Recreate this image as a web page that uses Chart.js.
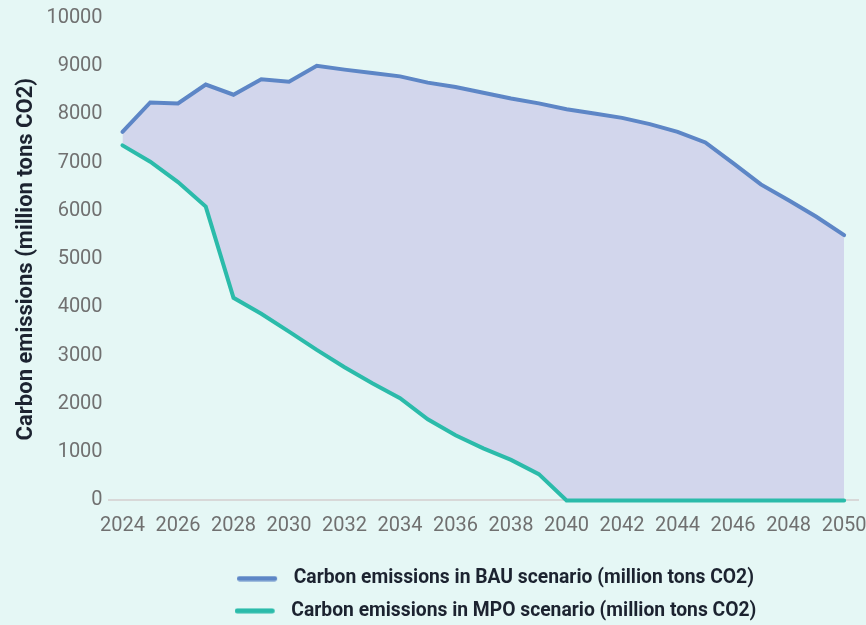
<!DOCTYPE html>
<html>
<head>
<meta charset="utf-8">
<script src="https://cdn.jsdelivr.net/npm/chart.js@4"></script>
<style>
  html, body { margin: 0; padding: 0; background: #e5f7f5; }
  #wrap { width: 866px; height: 625px; }
</style>
</head>
<body>
<div id="wrap"><canvas id="emissions-chart"></canvas></div>
<script>
// Years on the x axis
const years = ["2024", "2025", "2026", "2027", "2028", "2029", "2030", "2031", "2032",
  "2033", "2034", "2035", "2036", "2037", "2038", "2039", "2040", "2041", "2042",
  "2043", "2044", "2045", "2046", "2047", "2048", "2049", "2050"];

// Business as usual (million tons CO2)
const bau = [7640, 8250, 8230, 8620, 8410, 8730, 8680, 9010, 8930, 8860, 8790, 8660,
  8570, 8450, 8330, 8230, 8110, 8020, 7930, 7800, 7640, 7420, 6990, 6550, 6220, 5880, 5500];

// MPO scenario (million tons CO2)
const mpo = [7360, 7020, 6600, 6090, 4200, 3870, 3500, 3120, 2760, 2430, 2120, 1680,
  1350, 1080, 840, 545, 0, 0, 0, 0, 0, 0, 0, 0, 0, 0, 0];

const yTicks = [0, 1000, 2000, 3000, 4000, 5000, 6000, 7000, 8000, 9000, 10000];

const bauColor = "#5d86c6";
const mpoColor = "#2bbbaa";

Chart.defaults.font.family = "Roboto, 'Noto Sans', sans-serif";

// small rounded stroke for the legend, with some empty room after it
function legendSwatch(color) {
    const c = document.createElement("canvas");
    c.width = 47;
    c.height = 6;
    const g = c.getContext("2d");
    g.strokeStyle = color;
    g.lineWidth = 5;
    g.lineCap = "round";
    g.beginPath();
    g.moveTo(2.5, 3);
    g.lineTo(37.5, 3);
    g.stroke();
    return c;
}

// push the legend block a bit to the right of centre
const legendShift = {
    id: 'legendShift',
    afterLayout(chart) {
        chart.legend.left += 113;
    }
};

new Chart(document.getElementById("emissions-chart"), {
    type: 'line',
    data: {
        labels: years,
        datasets: [
            {
                label: "Carbon emissions in BAU scenario (million tons CO2)",
                data: bau,
                borderColor: bauColor,
                backgroundColor: "#d2d6ec",
                fill: '+1', // shade the gap down to the MPO line
                borderWidth: 4,
                borderCapStyle: 'round',
                pointRadius: 0,
                tension: 0,
                clip: false
            },
            {
                label: "Carbon emissions in MPO scenario (million tons CO2)",
                data: mpo,
                borderColor: mpoColor,
                backgroundColor: mpoColor,
                fill: false,
                borderWidth: 4,
                borderCapStyle: 'round',
                pointRadius: 0,
                tension: 0,
                clip: false
            }
        ]
    },
    plugins: [legendShift],
    options: {
        responsive: true,
        maintainAspectRatio: false,
        animation: false,
        layout: { padding: { top: 4, left: 12, right: 0, bottom: -5.5 } },
        scales: {
            x: {
                offset: true,
                grid: { display: false, drawTicks: false },
                border: { display: true, color: "#d8d8d8", width: 2 },
                afterFit: scale => {
                    scale.height = 55.5;
                    scale.paddingRight = 8; // let the last year label run to the edge
                },
                ticks: {
                    color: "#707070",
                    font: { size: 20 },
                    padding: 14,
                    maxRotation: 0,
                    autoSkip: true
                }
            },
            y: {
                min: 0,
                max: 10000,
                afterBuildTicks: axis => { axis.ticks = yTicks.map(v => ({ value: v })); },
                grid: { display: false, drawTicks: false },
                border: { display: false },
                ticks: {
                    color: "#707070",
                    font: { size: 20 },
                    padding: 6,
                    callback: v => String(v)
                },
                title: {
                    display: true,
                    text: "Carbon emissions (million tons CO2)",
                    color: "#1c2330",
                    font: { size: 22, weight: 'bold' },
                    padding: { top: 1, bottom: 1 }
                }
            }
        },
        plugins: {
            filler: { drawTime: 'beforeDatasetsDraw' },
            tooltip: { enabled: false },
            legend: {
                position: 'bottom',
                labels: {
                    color: "#1c2330",
                    font: { size: 19.3, weight: 'bold' },
                    usePointStyle: true,
                    pointStyleWidth: 47,
                    padding: 13,
                    generateLabels: chart => chart.data.datasets.map((ds, i) => ({
                        text: ds.label,
                        pointStyle: legendSwatch(ds.borderColor),
                        fillStyle: ds.borderColor,
                        strokeStyle: ds.borderColor,
                        lineWidth: 0,
                        fontColor: "#1c2330",
                        datasetIndex: i
                    }))
                }
            }
        }
    }
});
</script>
</body>
</html>
